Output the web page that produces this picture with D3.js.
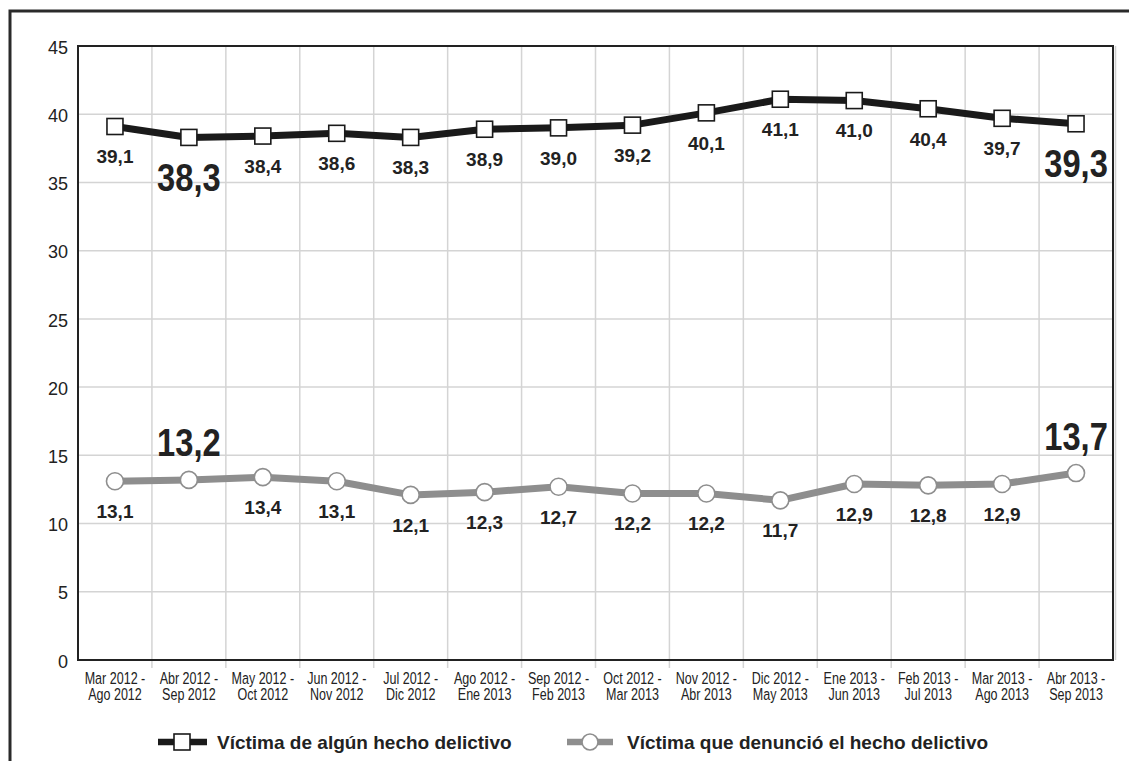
<!DOCTYPE html>
<html>
<head>
<meta charset="utf-8">
<script src="https://cdn.jsdelivr.net/npm/d3@7"></script>
<style>
  html, body { margin: 0; padding: 0; background: #fff; }
  svg { display: block; }
</style>
</head>
<body>
<svg id="chart" width="1129" height="761"></svg>
<script>
// Periods (rolling six-month windows)
const periodStart = ["Mar 2012 -", "Abr 2012 -", "May 2012 -", "Jun 2012 -", "Jul 2012 -", "Ago 2012 -", "Sep 2012 -",
                     "Oct 2012 -", "Nov 2012 -", "Dic 2012 -", "Ene 2013 -", "Feb 2013 -", "Mar 2013 -", "Abr 2013 -"];
const periodEnd = ["Ago 2012", "Sep 2012", "Oct 2012", "Nov 2012", "Dic 2012", "Ene 2013", "Feb 2013",
                   "Mar 2013", "Abr 2013", "May 2013", "Jun 2013", "Jul 2013", "Ago 2013", "Sep 2013"];

// Percentages per period
const victimas = [39.1, 38.3, 38.4, 38.6, 38.3, 38.9, 39.0, 39.2, 40.1, 41.1, 41.0, 40.4, 39.7, 39.3];
const denuncias = [13.1, 13.2, 13.4, 13.1, 12.1, 12.3, 12.7, 12.2, 12.2, 11.7, 12.9, 12.8, 12.9, 13.7];

// Periods whose value is shown with a large label
const highlighted = [1, 13];

const yTicks = [0, 5, 10, 15, 20, 25, 30, 35, 40, 45];
const seriesNames = ["Víctima de algún hecho delictivo", "Víctima que denunció el hecho delictivo"];

const svg = d3.select("#chart");
const plotL = 78, plotR = 1113, plotT = 46, plotB = 660;
const textColor = "#222";
const sans = "Liberation Sans, Arial, sans-serif";
const fmt = v => d3.format(".1f")(v).replace(".", ",");

const x = d3.scaleBand().domain(d3.range(periodStart.length)).range([plotL, plotR]);
const y = d3.scaleLinear().domain([0, 45]).range([plotB, plotT]);
const cx = i => x(i) + x.bandwidth() / 2;

// Outer frame
svg.append("rect").attr("x", 10).attr("y", 11).attr("width", 1200).attr("height", 800)
  .attr("fill", "none").attr("stroke", "#2a2a2a").attr("stroke-width", 3);

// Horizontal grid
svg.append("g").selectAll("line").data(yTicks.filter(t => t > 0 && t < 45)).join("line")
  .attr("x1", plotL).attr("x2", plotR).attr("y1", d => y(d)).attr("y2", d => y(d))
  .attr("stroke", "#d4d4d4").attr("stroke-width", 1.5);

// Vertical grid at period boundaries, extending below the axis as ticks
svg.append("g").selectAll("line").data(d3.range(1, periodStart.length)).join("line")
  .attr("x1", d => x(d)).attr("x2", d => x(d)).attr("y1", plotT).attr("y2", plotB + 8)
  .attr("stroke", "#d4d4d4").attr("stroke-width", 1.5);

// Plot border with a faint shadow on the right
svg.append("line").attr("x1", plotR + 2.5).attr("x2", plotR + 2.5).attr("y1", plotT).attr("y2", plotB)
  .attr("stroke", "#cfcfcf").attr("stroke-width", 1.5);
svg.append("rect").attr("x", plotL).attr("y", plotT).attr("width", plotR - plotL).attr("height", plotB - plotT)
  .attr("fill", "none").attr("stroke", "#222").attr("stroke-width", 2);

// Y axis labels
const yAxis = d3.axisLeft(y).tickValues(yTicks).tickSize(0).tickPadding(10);
svg.append("g").attr("transform", `translate(${plotL},0)`).call(yAxis)
  .call(g => g.select(".domain").remove())
  .selectAll("text").attr("font-family", sans)
  .attr("font-size", 18).attr("fill", textColor).attr("dy", "0.4em");

// X axis labels (two lines, condensed)
const xAxis = d3.axisBottom(x).tickSize(0).tickFormat(() => "");
const xg = svg.append("g").attr("transform", `translate(0,${plotB})`).call(xAxis);
xg.select(".domain").remove();
xg.selectAll(".tick").each(function(i) {
  const t = d3.select(this).append("text")
    .attr("transform", "scale(0.76,1)")
    .attr("font-family", sans)
    .attr("font-size", 16.5).attr("fill", textColor).attr("text-anchor", "middle");
  t.append("tspan").attr("x", 0).attr("y", 24).text(periodStart[i]);
  t.append("tspan").attr("x", 0).attr("y", 40).text(periodEnd[i]);
});

const line = d3.line().x((d, i) => cx(i)).y(d => y(d));

function drawSeries(values, color, marker, labelBelowBig) {
  const g = svg.append("g");
  g.append("path").datum(values).attr("d", line).attr("fill", "none")
    .attr("stroke", color).attr("stroke-width", 7).attr("stroke-linejoin", "round");
  if (marker === "square") {
    g.selectAll("rect").data(values).join("rect")
      .attr("x", (d, i) => cx(i) - 8).attr("y", d => y(d) - 8)
      .attr("width", 16).attr("height", 16)
      .attr("fill", "#fff").attr("stroke", "#1a1a1a").attr("stroke-width", 1.6);
  } else {
    g.selectAll("circle").data(values).join("circle")
      .attr("cx", (d, i) => cx(i)).attr("cy", d => y(d)).attr("r", 8.5)
      .attr("fill", "#fff").attr("stroke", color).attr("stroke-width", 1.6);
  }
  g.selectAll("text").data(values).join("text")
    .attr("transform", (d, i) => {
      if (highlighted.includes(i)) {
        const ty = labelBelowBig ? y(d) + 40 + 13.5 : y(d) - 37 + 13.5;
        return `translate(${cx(i)},${ty}) scale(0.86,1)`;
      }
      return `translate(${cx(i)},${y(d) + 30 + 6.8})`;
    })
    .attr("text-anchor", "middle").attr("fill", textColor).attr("font-weight", "bold")
    .attr("font-family", sans)
    .attr("font-size", (d, i) => highlighted.includes(i) ? 38 : 19)
    .text(d => fmt(d));
}

drawSeries(victimas, "#1a1a1a", "square", true);
drawSeries(denuncias, "#8e8e8e", "circle", false);

// Legend
const ly = 742;
const leg = svg.append("g");
leg.append("line").attr("x1", 158).attr("x2", 207).attr("y1", ly).attr("y2", ly)
  .attr("stroke", "#1a1a1a").attr("stroke-width", 6.5);
leg.append("rect").attr("x", 174).attr("y", ly - 8).attr("width", 16).attr("height", 16)
  .attr("fill", "#fff").attr("stroke", "#1a1a1a").attr("stroke-width", 1.6);
leg.append("text").attr("x", 217).attr("y", ly + 7)
  .attr("font-family", sans).attr("font-weight", "bold")
  .attr("font-size", 19).attr("fill", textColor).text(seriesNames[0]);
leg.append("line").attr("x1", 567).attr("x2", 613).attr("y1", ly).attr("y2", ly)
  .attr("stroke", "#8e8e8e").attr("stroke-width", 6.5);
leg.append("circle").attr("cx", 590).attr("cy", ly).attr("r", 8)
  .attr("fill", "#fff").attr("stroke", "#8e8e8e").attr("stroke-width", 1.6);
leg.append("text").attr("x", 627).attr("y", ly + 7)
  .attr("font-family", sans).attr("font-weight", "bold")
  .attr("font-size", 19).attr("fill", textColor).text(seriesNames[1]);
</script>
</body>
</html>
